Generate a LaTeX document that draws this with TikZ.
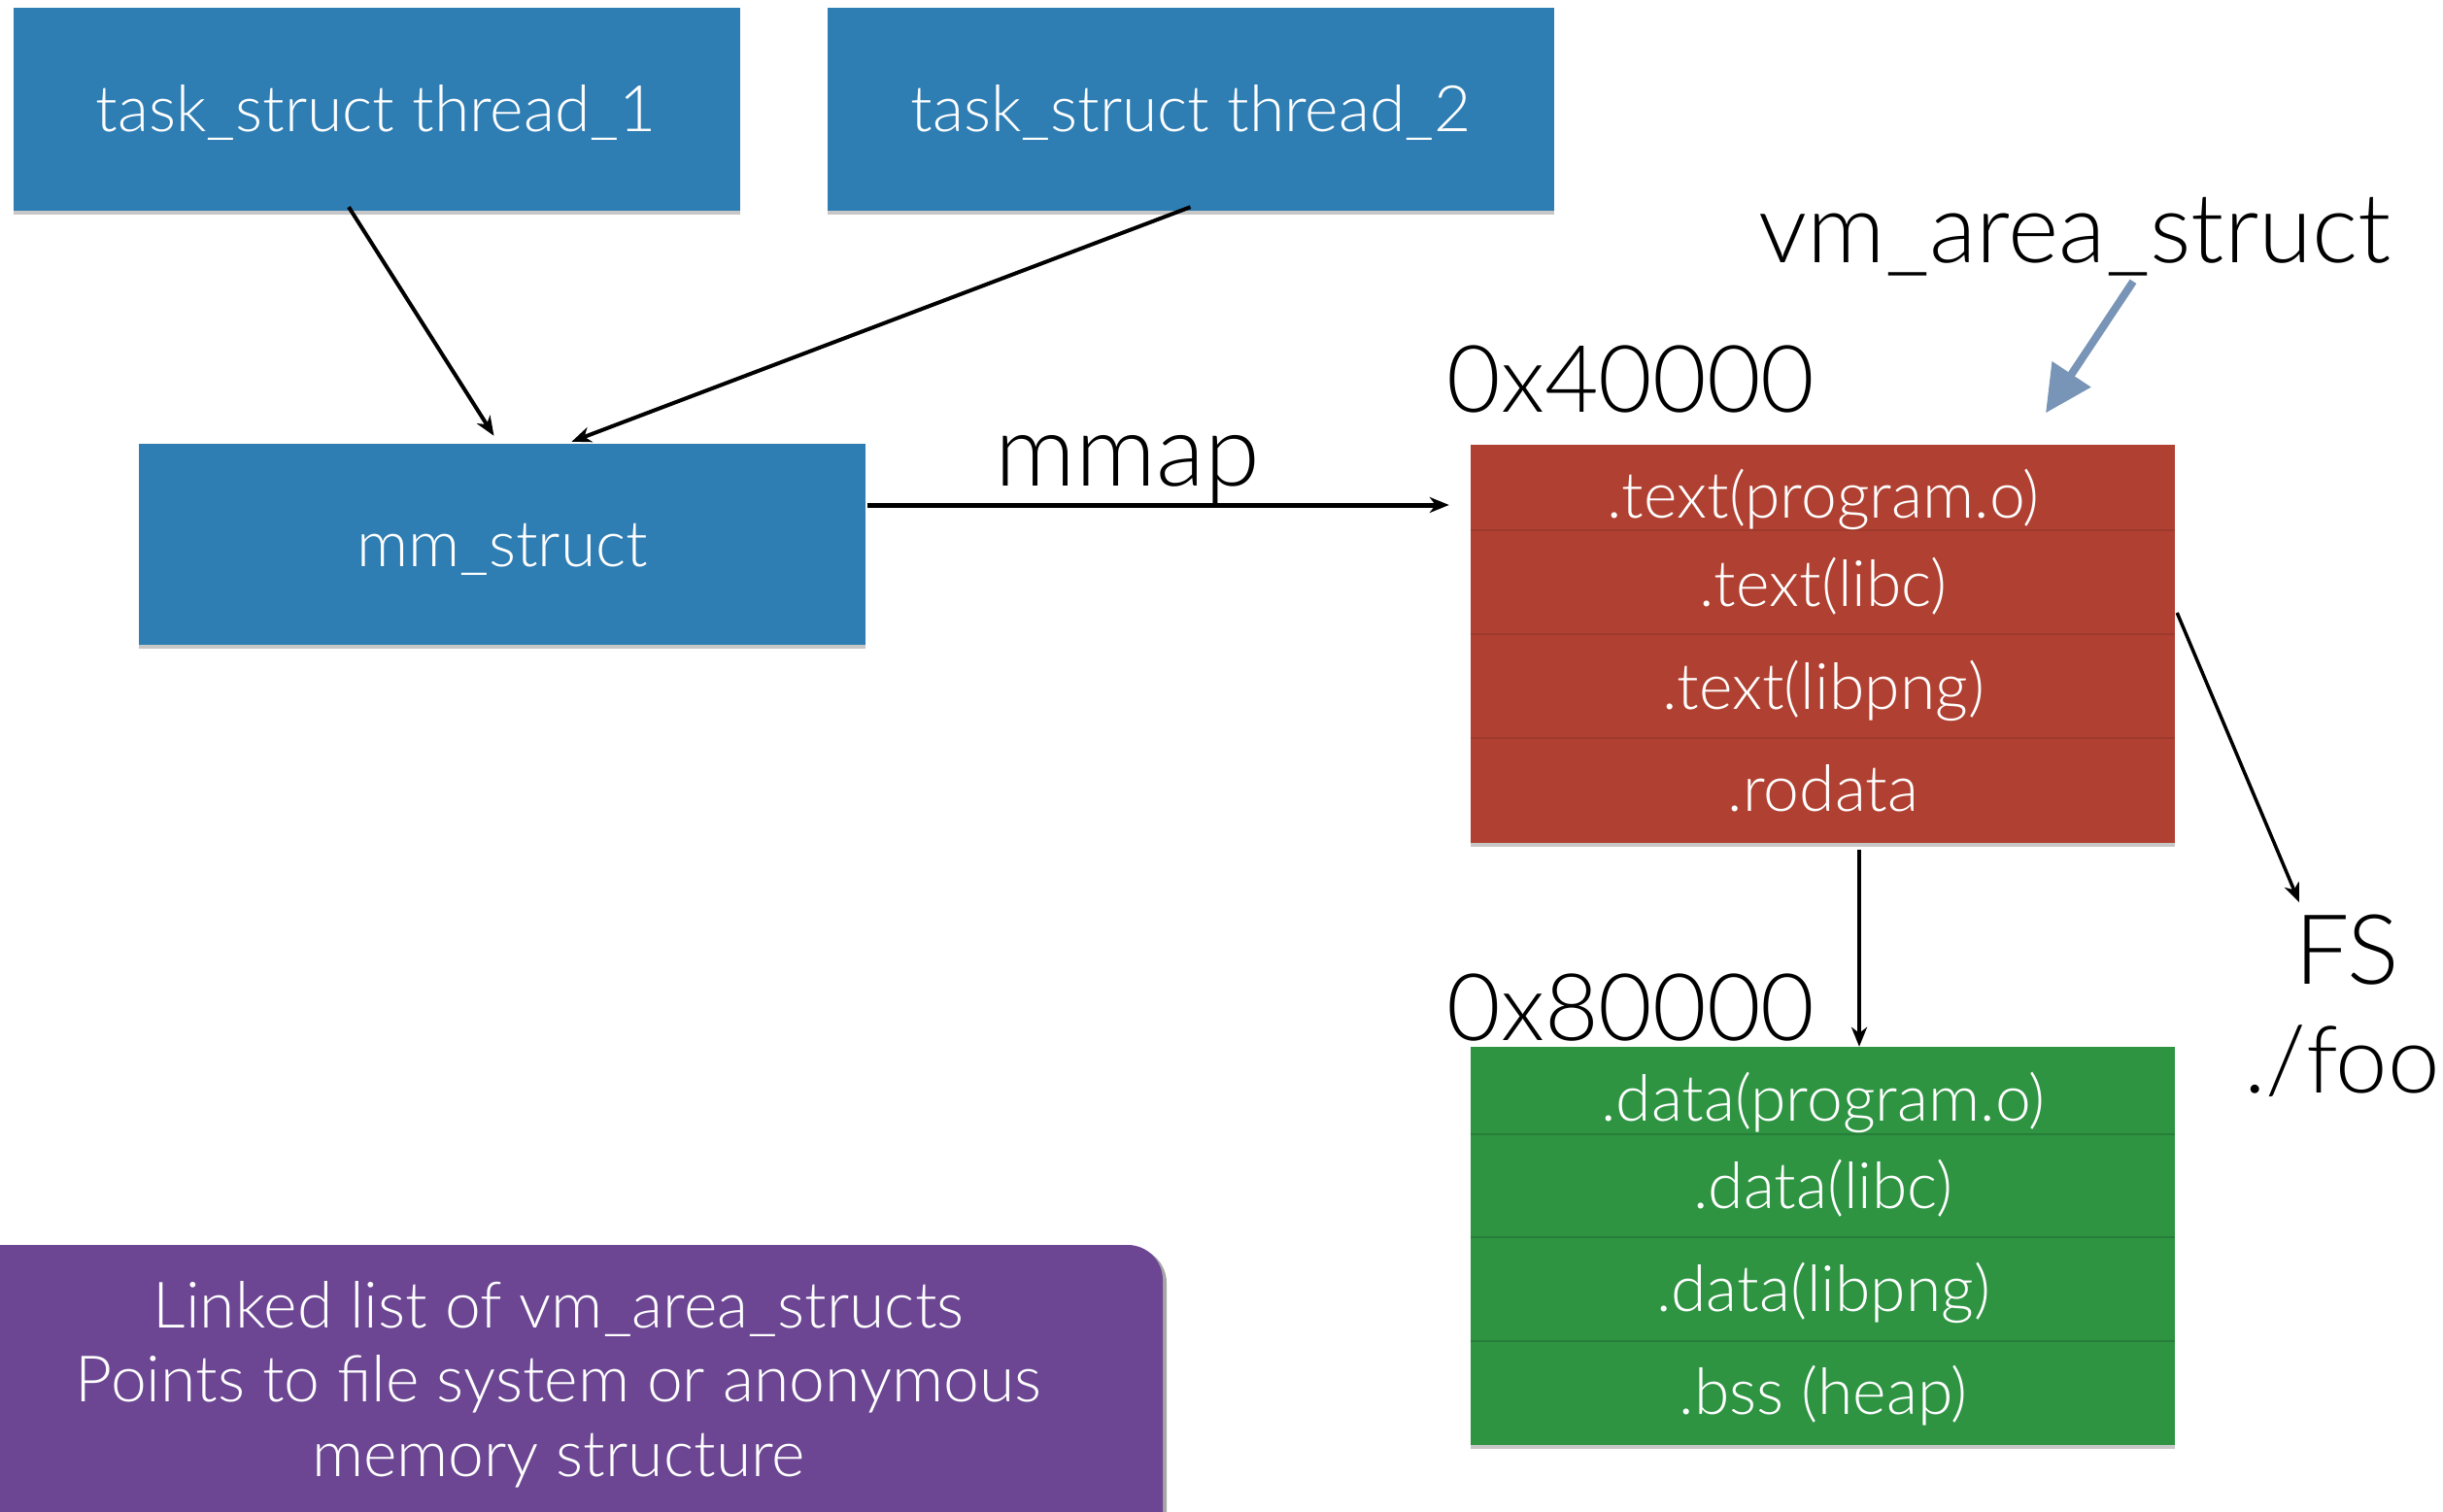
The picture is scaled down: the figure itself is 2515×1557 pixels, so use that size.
\documentclass[tikz,border=0pt]{standalone}
\usepackage{fontspec}
\setmainfont{Lato Light}
\usetikzlibrary{arrows.meta,shadows}
\definecolor{boxblue}{RGB}{46,125,179}
\definecolor{boxred}{RGB}{176,65,50}
\definecolor{boxgreen}{RGB}{46,148,66}
\definecolor{boxpurple}{RGB}{108,70,146}
\definecolor{vmblue}{RGB}{120,148,182}
\tikzset{
  shad/.style={drop shadow={shadow xshift=0pt,shadow yshift=-4pt,opacity=0.22,fill=black}},
  bluebox/.style={fill=boxblue,minimum width=748pt,minimum height=209pt,inner sep=0pt,shad},
  membox/.style={fill=#1,minimum width=725pt,minimum height=410pt,inner sep=0pt,shad},
  wlbl/.style={text=white,font=\fontsize{66}{79}\selectfont,anchor=base,inner sep=0pt},
  biglbl/.style={text=black,font=\fontsize{96}{115}\selectfont,anchor=base,inner sep=0pt},
  conn/.style={draw=black,line width=4pt,-{Stealth[length=20pt,width=16pt,inset=6pt]}},
  sepline/.style={line width=2pt,draw=#1},
}
\begin{document}
\begin{tikzpicture}[x=1pt,y=-1pt]
\useasboundingbox (0,0) rectangle (2515,1557);
% boxes
\node[bluebox] (t1) at (388,112.5) {};
\node[bluebox] (t2) at (1225.5,112.5) {};
\node[bluebox,minimum height=207pt] (mm) at (516.5,560.5) {};
\node[membox=boxred] (red) at (1876.5,662.5) {};
\node[membox=boxgreen] (green) at (1876.5,1283) {};
% separators
\draw[sepline=boxred!90!black] (red.west |- 0,546) -- (red.east |- 0,546);
\draw[sepline=boxred!90!black] (red.west |- 0,653) -- (red.east |- 0,653);
\draw[sepline=boxred!90!black] (red.west |- 0,760) -- (red.east |- 0,760);
\draw[sepline=boxgreen!85!black] (green.west |- 0,1168) -- (green.east |- 0,1168);
\draw[sepline=boxgreen!85!black] (green.west |- 0,1274) -- (green.east |- 0,1274);
\draw[sepline=boxgreen!85!black] (green.west |- 0,1381) -- (green.east |- 0,1381);
% box texts
\node[wlbl] (t1txt) at (387,136) {task\_struct thread\_1};
\node[wlbl] (t2txt) at (1226,136) {task\_struct thread\_2};
\node[wlbl] (mmtxt) at (517,583) {mm\_struct};
\node[wlbl] (r1) at (1877,533) {.text(program.o)};
\node[wlbl] (r2) at (1877,624) {.text(libc)};
\node[wlbl] (r3) at (1877,730) {.text(libpng)};
\node[wlbl] (r4) at (1877,835) {.rodata};
\node[wlbl] (g1) at (1877,1154) {.data(program.o)};
\node[wlbl] (g2) at (1877,1244) {.data(libc)};
\node[wlbl] (g3) at (1877,1350) {.data(libpng)};
\node[wlbl] (g4) at (1877,1456) {.bss (heap)};
% big labels
\node[biglbl,font=\fontsize{103}{120}\selectfont] (mmap) at (1161,500) {mmap};
\node[biglbl] (a4) at (1679,424) {0x40000};
\node[biglbl] (a8) at (1679,1071) {0x80000};
\node[biglbl,font=\fontsize{100}{120}\selectfont] (vm) at (2136,270) {vm\_area\_struct};
\node[biglbl,font=\fontsize{100}{120}\selectfont] (fs) at (2416,1013) {FS};
\node[biglbl] (foo) at (2411,1125) {./foo};
% purple note
\begin{scope}
\clip (0,0) rectangle (2515,1557);
\fill[boxpurple,rounded corners=36pt,drop shadow={shadow xshift=4pt,shadow yshift=-3pt,opacity=0.35,fill=black}] (-60,1282) rectangle (1197,1640);
\end{scope}
\node[wlbl] (n1) at (575,1367) {Linked list of vm\_area\_structs};
\node[wlbl] (n2) at (575,1443) {Points to file system or anonymous};
\node[wlbl] (n3) at (575,1520) {memory structure};
% connectors
\draw[conn] ([xshift=-29pt,yshift=4pt]t1.south) -- ([xshift=-8pt,yshift=8pt]mm.north);
\draw[conn] ([yshift=4pt]t2.south) -- ([xshift=72pt,yshift=2pt]mm.north);
\draw[conn,line width=5pt] ([xshift=2pt,yshift=40.5pt]mm.east) -- ([xshift=-22pt,yshift=142.5pt]red.west);
\draw[conn,line width=3.5pt] ([xshift=37.5pt,yshift=-7pt]red.south) -- ([xshift=37.5pt]green.north);
\draw[conn,line width=3.5pt] ([xshift=2pt,yshift=31.5pt]red.east) -- ([xshift=-49pt,yshift=12pt]fs.north);
\draw[draw=vmblue,line width=8pt,-{Triangle[length=48pt,width=46pt]}] ([xshift=60pt,yshift=-6pt]vm.south) -- ([xshift=229.5pt,yshift=32pt]red.north);
\end{tikzpicture}
\end{document}
